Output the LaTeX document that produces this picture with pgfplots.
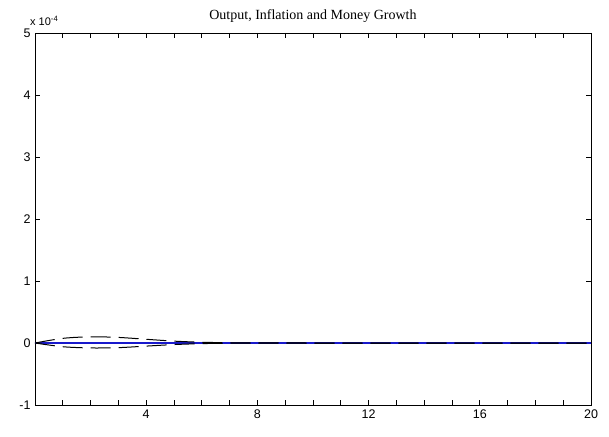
\documentclass[border=0pt]{standalone}
\usepackage{pgfplots}
\pgfplotsset{compat=1.18}
\usepackage{fontspec}
\setmainfont{Liberation Sans}
\newfontfamily\seriffont{Liberation Serif}
\definecolor{mblue}{rgb}{0.1,0.1,0.8}
\begin{document}
\begin{tikzpicture}
\begin{axis}[
  name=ax,
  scale only axis,
  width=556pt, height=372pt,
  xmin=0, xmax=20, ymin=-1, ymax=5,
  xtick={4,8,12,16,20},
  minor xtick={1,2,3,5,6,7,9,10,11,13,14,15,17,18,19},
  ytick={-1,0,1,2,3,4,5},
  tick align=inside,
  major tick length=5pt, minor tick length=5pt,
  tick style={black, line width=0.7pt},
  axis line style={black, line width=0.9pt},
  every tick label/.append style={font=\fontsize{12.5}{14}\selectfont},
  /pgf/number format/assume math mode=true,
  xticklabel style={yshift=-1pt},
  yticklabel style={xshift=-1pt},
  title={\seriffont Output, Inflation and Money Growth},
  title style={font=\fontsize{14}{16}\selectfont, yshift=1pt},
  clip=false,
]
\addplot[mblue, line width=1.1pt] coordinates {(0,0) (20,0)};
\addplot[black, line width=1pt, dash pattern=on 20pt off 8pt, smooth] coordinates {
(0,0) (1,0.075) (2,0.1) (3,0.09) (4,0.06) (5,0.03) (6,0.012) (7,0.004) (8,0) (10,0) (12,0) (14,0) (16,0) (18,0) (20,0)};
\addplot[black, line width=1pt, dash pattern=on 20pt off 8pt, smooth] coordinates {
(0,0) (1,-0.06) (2,-0.08) (3,-0.075) (4,-0.05) (5,-0.025) (6,-0.01) (7,-0.003) (8,0) (10,0) (12,0) (14,0) (16,0) (18,0) (20,0)};
\node[anchor=south west, font=\fontsize{11}{12}\selectfont, inner sep=1pt] at ([xshift=-6pt,yshift=6pt]rel axis cs:0,1) {x 10\textsuperscript{-4}};
\end{axis}
\pgfresetboundingbox
\path ([xshift=-35pt,yshift=-31pt]ax.south west) rectangle ([xshift=18pt,yshift=33pt]ax.north east);
\end{tikzpicture}
\end{document}
